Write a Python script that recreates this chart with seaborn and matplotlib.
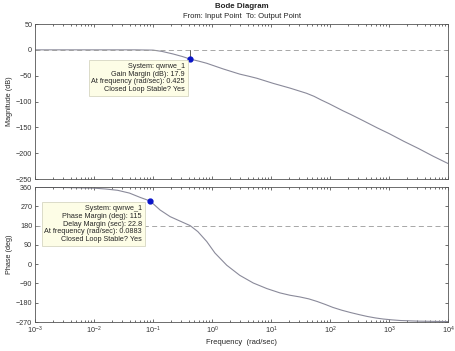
import numpy as np
import pandas as pd
import seaborn as sns
import matplotlib.pyplot as plt
from matplotlib.ticker import LogLocator, NullFormatter, MultipleLocator

sns.set_theme(style="ticks")
plt.rcParams['font.family'] = ['Liberation Sans', 'DejaVu Sans']

# values (log10 of frequency in rad/sec)
mag_logf = [-3.0, -2.0, -1.3, -1.0, -0.85, -0.66, -0.5, -0.37, -0.22, -0.09,
            0.05, 0.19, 0.33, 0.47, 0.62, 0.76, 0.9, 1.04, 1.18, 1.32, 1.46,
            1.6, 1.73, 1.85, 1.98, 2.1, 2.22, 2.35, 2.56, 2.8, 3.0, 3.25,
            3.5, 3.75, 4.0]
mag_db = [0.0, 0.0, 0.0, -0.5, -3.0, -8.0, -13.0, -17.9, -22.0, -26.0,
          -31.5, -37.0, -42.0, -47.0, -51.0, -55.0, -60.0, -65.0, -69.5, -74.0,
          -79.0, -84.0, -90.0, -97.0, -104.0, -111.0, -118.0, -125.0, -137.0,
          -151.0, -162.0, -177.0, -191.0, -206.0, -220.0]

ph_logf = [-3.0, -2.5, -2.0, -1.8, -1.6, -1.4, -1.22, -1.05, -0.88, -0.71,
           -0.54, -0.37, -0.24, -0.09, 0.05, 0.25, 0.47, 0.7, 0.93, 1.15,
           1.32, 1.49, 1.64, 1.78, 1.92, 2.05, 2.2, 2.35, 2.5, 2.63, 2.77,
           2.9, 3.05, 3.19, 3.5, 3.75, 4.0]
ph_deg = [359, 358, 355, 351, 345, 332, 312, 295, 253, 222,
          201, 180, 152, 106, 52, -5, -52, -88, -114, -134,
          -145, -153, -162, -174, -188, -202, -215, -226, -236, -244, -251,
          -256, -260, -263, -266, -267, -268]

gm_freq, gm_mag = 0.425, -17.9
pm_freq, pm_phase = 0.0883, 295

gm_lines = ["System: qwrwe_1", "Gain Margin (dB): 17.9",
            "At frequency (rad/sec): 0.425", "Closed Loop Stable? Yes"]
pm_lines = ["System: qwrwe_1", "Phase Margin (deg): 115", "Delay Margin (sec): 22.8",
            "At frequency (rad/sec): 0.0883", "Closed Loop Stable? Yes"]

mag_df = pd.DataFrame({"freq": 10.0 ** np.array(mag_logf), "mag": mag_db})
ph_df = pd.DataFrame({"freq": 10.0 ** np.array(ph_logf), "phase": ph_deg})

fig = plt.figure(figsize=(4.56, 3.51), dpi=100)
ax1 = fig.add_axes([0.0768, 0.490, 0.9057, 0.4416])
ax2 = fig.add_axes([0.0768, 0.0826, 0.9057, 0.3844])

line_c = "#8a8a9a"
fs = 5.2

sns.lineplot(data=mag_df, x="freq", y="mag", ax=ax1, color=line_c, lw=0.8)
sns.lineplot(data=ph_df, x="freq", y="phase", ax=ax2, color=line_c, lw=0.8)

for ax in (ax1, ax2):
    ax.set_xscale("log")
    ax.set_xlim(1e-3, 1e4)
    ax.xaxis.set_major_locator(LogLocator(base=10, numticks=20))
    ax.xaxis.set_minor_locator(LogLocator(base=10, subs=np.arange(2, 10), numticks=20))
    ax.xaxis.set_minor_formatter(NullFormatter())
    ax.tick_params(which="both", direction="in", top=True, right=True,
                   labelsize=fs, length=2.5, width=0.5, pad=2, colors="#333333")
    ax.tick_params(which="minor", length=1.5)
    for s in ax.spines.values():
        s.set_linewidth(0.6)
        s.set_color("#555555")
    ax.set_xlabel("")

ax1.set_ylim(-250, 50)
ax1.yaxis.set_major_locator(MultipleLocator(50))
ax1.tick_params(labelbottom=False)
ax1.set_ylabel("Magnitude (dB)", fontsize=fs, labelpad=2)
ax1.axhline(0, color="#999999", lw=0.6, ls=(0, (6, 4)))
ax1.plot([gm_freq, gm_freq], [gm_mag, 0], color="#444444", lw=0.6)
ax1.plot(gm_freq, gm_mag, "o", color="#0a14c8", ms=3.5)

ax2.set_ylim(-270, 360)
ax2.yaxis.set_major_locator(MultipleLocator(90))
ax2.set_ylabel("Phase (deg)", fontsize=fs, labelpad=2)
ax2.axhline(180, color="#999999", lw=0.6, ls=(0, (6, 4)))
ax2.plot(pm_freq, pm_phase, "o", color="#0a14c8", ms=3.5)
ax2.set_xlabel("Frequency  (rad/sec)", fontsize=fs + 0.3, labelpad=2)

box = dict(boxstyle="square,pad=0.35", fc="#fdfde6", ec="#cfcfb8", lw=0.5)
fig.text(185 / 456, 1 - 78 / 351, "\n".join(gm_lines), ha="right", va="center",
         fontsize=fs, linespacing=1.15, bbox=box)
fig.text(142 / 456, 1 - 224 / 351, "\n".join(pm_lines), ha="right", va="center",
         fontsize=fs, linespacing=1.15, bbox=box)

fig.text(0.53, 1 - 7 / 351, "Bode Diagram", ha="center", va="center",
         fontsize=fs + 0.5, fontweight="bold", color="#222222")
fig.text(0.53, 1 - 16 / 351, "From: Input Point  To: Output Point", ha="center",
         va="center", fontsize=fs + 0.3, color="#222222")

fig.savefig("out.png", dpi=100)
